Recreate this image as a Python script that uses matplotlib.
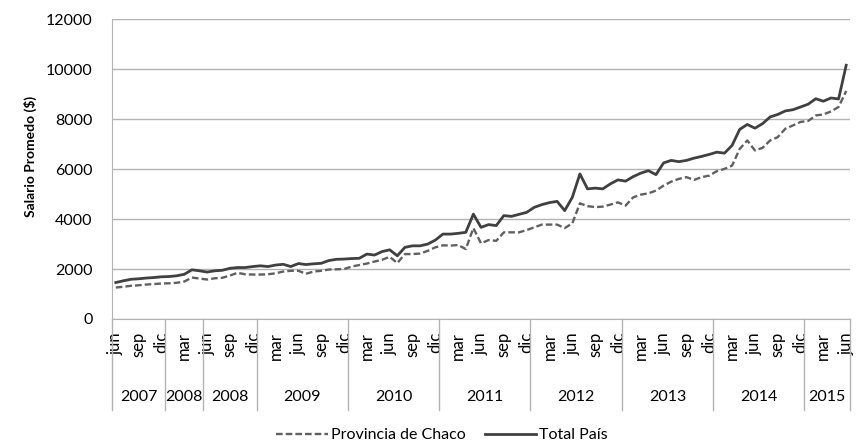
import matplotlib
matplotlib.use("Agg")
import matplotlib.pyplot as plt

plt.rcParams['font.family'] = ['Lato', 'DejaVu Sans']

# monthly data, jun 2007 .. jun 2015
total_pais = [1460, 1530, 1590, 1610, 1640, 1660, 1690, 1700, 1730, 1790,
              1970, 1930, 1880, 1930, 1950, 2030, 2060, 2060, 2100, 2130,
              2100, 2160, 2190, 2100, 2220, 2180, 2210, 2230, 2340, 2390,
              2400, 2420, 2430, 2600, 2560, 2700, 2770, 2530, 2870, 2930,
              2930, 3000, 3160, 3400, 3400, 3430, 3470, 4200, 3670, 3780,
              3740, 4140, 4110, 4190, 4270, 4470, 4580, 4660, 4710, 4340,
              4870, 5810, 5210, 5240, 5210, 5410, 5570, 5520, 5700, 5840,
              5940, 5780, 6250, 6350, 6300, 6350, 6440, 6510, 6590, 6680,
              6640, 6950, 7590, 7790, 7640, 7820, 8090, 8190, 8330, 8380,
              8490, 8600, 8820, 8720, 8850, 8810, 10160]
chaco = [1260, 1290, 1330, 1350, 1380, 1400, 1420, 1430, 1450, 1500,
         1660, 1620, 1580, 1630, 1650, 1740, 1850, 1790, 1780, 1780,
         1790, 1830, 1900, 1930, 1930, 1810, 1900, 1930, 1980, 1990,
         2000, 2100, 2160, 2220, 2300, 2370, 2490, 2240, 2600, 2600,
         2620, 2730, 2870, 2950, 2940, 2960, 2800, 3640, 3030, 3160,
         3130, 3470, 3470, 3470, 3560, 3670, 3780, 3780, 3780, 3640,
         3830, 4630, 4520, 4480, 4500, 4580, 4670, 4540, 4870, 4980,
         5030, 5140, 5340, 5500, 5610, 5680, 5570, 5680, 5740, 5920,
         6010, 6140, 6810, 7150, 6750, 6850, 7150, 7280, 7620, 7750,
         7890, 7930, 8150, 8190, 8310, 8490, 9130]

quarter_labels = ["jun", "sep", "dic", "mar"]
year_labels = ["2007", "2008", "2008", "2009", "2010", "2011",
               "2012", "2013", "2014", "2015"]
year_months = [7, 5, 7, 12, 12, 12, 12, 12, 12, 6]

n = len(total_pais)
x = list(range(n))

W, H = 858, 448
fig = plt.figure(figsize=(W / 100, H / 100), dpi=100)
ax = fig.add_axes([112 / W, 1 - 319 / H, (850 - 112) / W, (319 - 19.3) / H])

grid_c = '#b3b3b3'
ax.plot(x, chaco, color='#606060', lw=1.7, dashes=(2.8, 1.3),
        label='Provincia de Chaco')
ax.plot(x, total_pais, color='#404040', lw=2.0, label='Total País')

ax.set_xlim(-0.5, n - 0.5)
ax.set_ylim(0, 12000)
ax.set_yticks(range(0, 12001, 2000))
ax.tick_params(axis='y', length=0, pad=14, labelsize=11.5)
ax.yaxis.grid(True, color=grid_c, lw=1)
ax.set_axisbelow(True)
for s in ['top', 'right']:
    ax.spines[s].set_visible(False)
ax.spines['left'].set_color(grid_c)
ax.spines['bottom'].set_color(grid_c)

# month tick labels every 3 months
ticks = list(range(0, n, 3))
ax.set_xticks(ticks)
ax.set_xticklabels([quarter_labels[k % 4] for k in range(len(ticks))],
                   rotation=90, va='top', ha='center', fontsize=12)
ax.tick_params(axis='x', length=0, pad=9.5)

# year groups
ppu = 299.7  # pixels per axes unit (height)
div_bottom = -(410 - 319) / ppu
yr_y = -(397 - 319) / ppu
trans = ax.get_xaxis_transform()
start = 0
ax.plot([-0.5, -0.5], [0, div_bottom], color=grid_c, lw=1,
        transform=trans, clip_on=False)
for lab, m in zip(year_labels, year_months):
    end = start + m
    ax.plot([end - 0.5, end - 0.5], [0, div_bottom], color=grid_c, lw=1,
            transform=trans, clip_on=False)
    ax.text((start + end - 1) / 2, yr_y, lab, transform=trans,
            ha='center', va='center', fontsize=11.5)
    start = end

fig.text(30 / W, 1 - 156 / H, 'Salario Promedo ($)', rotation=90,
         ha='center', va='center', fontsize=10, fontweight='bold')

fig.legend(loc='center', bbox_to_anchor=(442 / W, 1 - 435 / H), ncol=2,
           frameon=False, fontsize=11.5, handlelength=3.2,
           handletextpad=0.2, columnspacing=1.2)

fig.savefig('out.png', dpi=100)
